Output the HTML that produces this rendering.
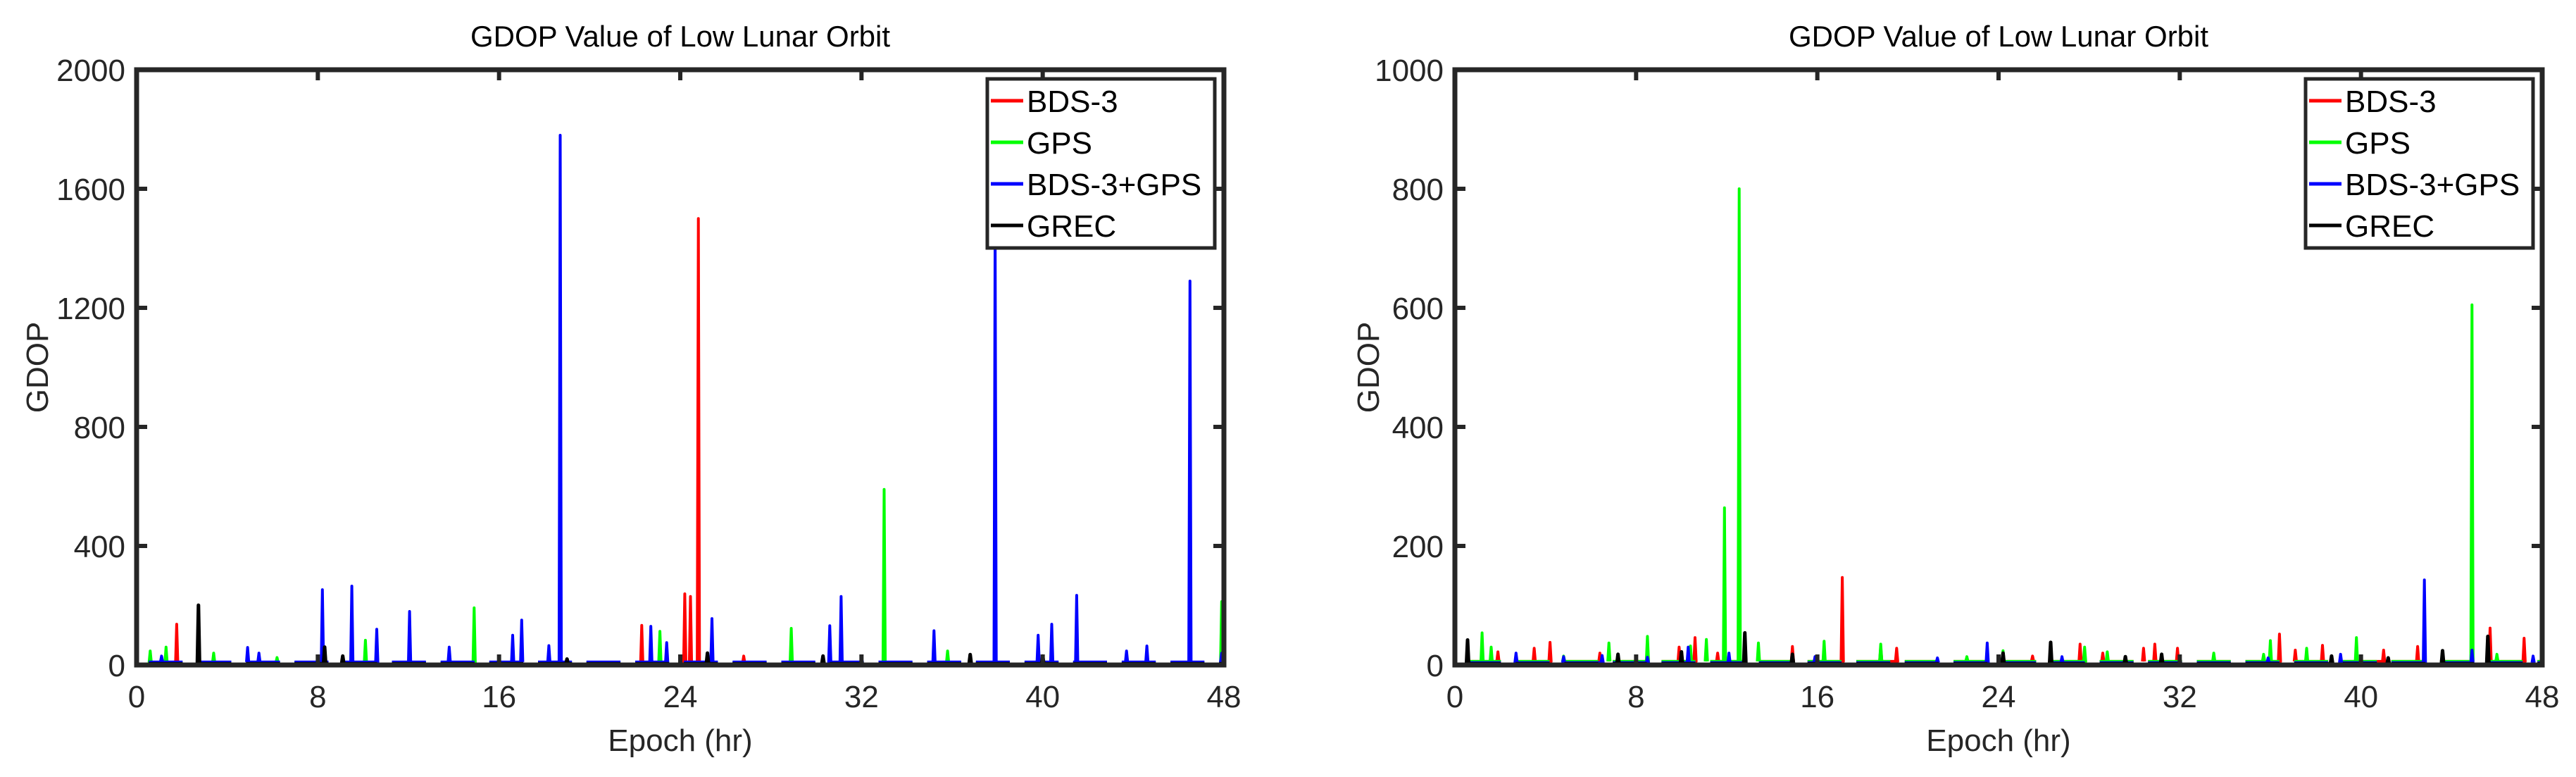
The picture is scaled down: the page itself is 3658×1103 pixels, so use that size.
<!DOCTYPE html>
<html><head><meta charset="utf-8"><style>
html,body{margin:0;padding:0;background:#fff;}
svg{display:block;font-family:"Liberation Sans",Arial,sans-serif;}
</style></head><body>
<svg id="chart" width="3658" height="1103" viewBox="0 0 3658 1103" xmlns="http://www.w3.org/2000/svg"></svg>
<script>
// ---- data ----
const xTicks = [0, 8, 16, 24, 32, 40, 48];
const yTicksLeft = [0, 400, 800, 1200, 1600, 2000];
const yTicksRight = [0, 200, 400, 600, 800, 1000];
const seriesNames = ["BDS-3", "GPS", "BDS-3+GPS", "GREC"];
const seriesColors = ["#ff0000", "#00ff00", "#0000ff", "#000000"];
const clusterStarts = [0.53,2.68,4.83,6.97,9.12,11.27,13.42,15.57,17.72,19.86,22.01,24.16,26.31,28.46,30.60,32.75,34.90,37.05,39.20,41.34,43.49,45.64,47.79];
const clusterLength = 1.5;
// left panel baselines
const leftBase = [6, 8, 10, 4];
// left panel spikes (hr, GDOP)
const leftRedT = [1.77, 22.3, 24.2, 24.45, 24.8, 26.8];
const leftRedV = [137, 133, 239, 230, 1500, 30];
const leftGreenT = [0.6, 1.3, 3.4, 6.2, 10.1, 14.9, 23.1, 28.9, 33.0, 35.8, 47.9];
const leftGreenV = [47, 60, 40, 25, 83, 192, 113, 123, 590, 47, 213];
const leftBlueT = [1.1, 4.9, 5.4, 8.2, 9.5, 10.6, 12.05, 13.8, 16.6, 17.0, 18.2, 18.7, 22.7, 23.4, 25.4, 30.6, 31.1, 35.2, 37.9, 39.8, 40.4, 41.5, 43.7, 44.6, 46.5, 47.9];
const leftBlueV = [30, 59, 40, 253, 265, 120, 180, 60, 100, 151, 65, 1780, 130, 75, 156, 132, 230, 115, 1460, 100, 137, 234, 47, 64, 1290, 40];
const leftBlackT = [2.73, 8.3, 9.1, 19.0, 25.2, 30.3, 36.8, 40.0];
const leftBlackV = [201, 60, 30, 20, 40, 30, 35, 30];
// right panel baselines
const rightBase = [6, 6, 4, 2];
const rightRedT = [1.9, 3.5, 4.2, 6.4, 9.9, 10.6, 11.6, 14.9, 17.1, 18.8, 19.5, 25.5, 27.6, 28.6, 30.4, 30.9, 31.9, 36.4, 37.1, 38.3, 41.0, 42.5, 45.7, 47.2];
const rightRedV = [22, 28, 38, 20, 30, 46, 20, 31, 147, 30, 28, 15, 35, 20, 28, 35, 28, 52, 25, 33, 25, 31, 62, 45];
const rightGreenT = [1.2, 1.6, 4.8, 6.8, 8.5, 10.4, 11.1, 11.9, 12.55, 13.4, 16.3, 18.8, 22.6, 24.2, 27.8, 28.8, 33.5, 35.7, 36.0, 37.6, 39.8, 44.9, 46.0];
const rightGreenV = [54, 30, 15, 37, 48, 32, 43, 264, 800, 37, 40, 35, 14, 24, 30, 22, 20, 18, 41, 28, 46, 605, 18];
const rightBlueT = [2.7, 4.8, 6.5, 8.5, 10.3, 12.1, 15.9, 21.3, 23.5, 26.8, 35.9, 39.1, 42.8, 44.9, 47.6];
const rightBlueV = [20, 14, 16, 13, 30, 20, 14, 12, 37, 14, 12, 18, 143, 25, 15];
const rightBlackT = [0.56, 7.2, 10.0, 12.8, 14.9, 24.2, 26.3, 29.6, 31.2, 38.7, 41.2, 43.6, 45.6];
const rightBlackV = [42, 18, 22, 54, 18, 20, 38, 14, 18, 15, 12, 24, 48];

// ---- drawing ----
const svg = document.getElementById('chart');
const NS = 'http://www.w3.org/2000/svg';
function mk(tag, attrs, parent) {
  const e = document.createElementNS(NS, tag);
  for (const k in attrs) e.setAttribute(k, attrs[k]);
  (parent || svg).appendChild(e);
  return e;
}
const axisColor = '#262626';
function panel(cfg) {
  const L = cfg.left, R = cfg.right, T = 99, B = 944;
  const g = mk('g', {});
  
  
  const xs = t => L + (t / 48) * (R - L);
  const ys = v => B - (v / cfg.ymax) * (B - T);
  const order = [0, 1, 2, 3];
  order.forEach(si => {
    const ts = cfg.T[si], vs = cfg.V[si], base = cfg.base[si];
    const w = 0.05;
    let d = '';
    clusterStarts.forEach(cs => {
      const ce = Math.min(cs + clusterLength, 48);
      d += 'M' + xs(cs).toFixed(1) + ',' + ys(base).toFixed(1);
      const idx = ts.map((t, i) => i).filter(i => ts[i] >= cs && ts[i] <= ce + 0.3).sort((a, b) => ts[a] - ts[b]);
      idx.forEach(i => {
        d += 'L' + xs(ts[i] - w).toFixed(1) + ',' + ys(base).toFixed(1);
        d += 'L' + xs(ts[i]).toFixed(1) + ',' + ys(vs[i]).toFixed(1);
        d += 'L' + xs(ts[i] + w).toFixed(1) + ',' + ys(base).toFixed(1);
      });
      d += 'L' + xs(ce).toFixed(1) + ',' + ys(base).toFixed(1);
    });
    ts.forEach((t, i) => {
      const inside = clusterStarts.some(cs => t >= cs && t <= cs + clusterLength + 0.3);
      if (!inside) {
        d += 'M' + xs(t - w).toFixed(1) + ',' + ys(base).toFixed(1) + 'L' + xs(t).toFixed(1) + ',' + ys(vs[i]).toFixed(1) + 'L' + xs(t + w).toFixed(1) + ',' + ys(base).toFixed(1);
      }
    });
    const p = mk('path', {d: d, fill: 'none', stroke: seriesColors[si], 'stroke-width': si === 3 ? 5 : 4, 'stroke-linejoin': 'round'}, g);
    
    
  });
  const box = mk('rect', {x: L, y: T, width: R - L, height: B - T, fill: 'none', stroke: axisColor, 'stroke-width': 7}, g);
  
  
  xTicks.forEach(t => {
    const x = xs(t);
    mk('line', {x1: x, y1: B, x2: x, y2: B - 15, stroke: axisColor, 'stroke-width': 6}, g);
    mk('line', {x1: x, y1: T, x2: x, y2: T + 15, stroke: axisColor, 'stroke-width': 6}, g);
    const tx = mk('text', {x: x, y: 1004, 'text-anchor': 'middle', 'font-size': 44, fill: axisColor}, g);
    tx.textContent = t;
    
    
  });
  cfg.yt.forEach(v => {
    const y = ys(v);
    mk('line', {x1: L, y1: y, x2: L + 15, y2: y, stroke: axisColor, 'stroke-width': 6}, g);
    mk('line', {x1: R, y1: y, x2: R - 15, y2: y, stroke: axisColor, 'stroke-width': 6}, g);
    const ty = mk('text', {x: L - 16, y: y + 16, 'text-anchor': 'end', 'font-size': 44, fill: axisColor}, g);
    ty.textContent = v;
    
    
  });
  const title = mk('text', {x: (L + R) / 2, y: 66, 'text-anchor': 'middle', 'font-size': 42, fill: '#000'}, g);
  title.textContent = 'GDOP Value of Low Lunar Orbit';
  
  
  const xl = mk('text', {x: (L + R) / 2, y: 1066, 'text-anchor': 'middle', 'font-size': 44, fill: axisColor}, g);
  xl.textContent = 'Epoch (hr)';
  
  
  const yl = mk('text', {x: 0, y: 0, 'text-anchor': 'middle', 'font-size': 44, fill: axisColor, transform: 'translate(' + (cfg.ylabelX) + ',' + ((T + B) / 2) + ') rotate(-90)'}, g);
  yl.textContent = 'GDOP';
  
  
  const lx = R - 336, ly = 112;
  const lg = mk('g', {}, g);
  
  
  mk('rect', {x: lx, y: ly, width: 323, height: 240, fill: '#fff', stroke: axisColor, 'stroke-width': 5}, lg);
  seriesNames.forEach((n, i) => {
    const yy = ly + 31 + i * 59;
    const ent = mk('g', {}, lg);
    
    
    mk('line', {x1: lx + 5, y1: yy, x2: lx + 51, y2: yy, stroke: seriesColors[i], 'stroke-width': 5}, ent);
    const t = mk('text', {x: lx + 56, y: yy + 16, 'font-size': 44, fill: '#000'}, ent);
    t.textContent = n;
  });
}
panel({name: 'left-panel', left: 194, right: 1738, ymax: 2000, yt: yTicksLeft, ylabelX: 68,
  base: leftBase, T: [leftRedT, leftGreenT, leftBlueT, leftBlackT], V: [leftRedV, leftGreenV, leftBlueV, leftBlackV]});
panel({name: 'right-panel', left: 2066, right: 3610, ymax: 1000, yt: yTicksRight, ylabelX: 1958,
  base: rightBase, T: [rightRedT, rightGreenT, rightBlueT, rightBlackT], V: [rightRedV, rightGreenV, rightBlueV, rightBlackV]});
</script>
</body></html>
